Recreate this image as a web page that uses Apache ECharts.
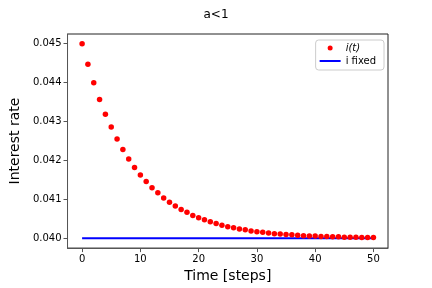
<!DOCTYPE html>
<html>
<head>
<meta charset="utf-8">
<script src="https://cdn.jsdelivr.net/npm/echarts@6/dist/echarts.min.js"></script>
<style>html,body{margin:0;padding:0;background:#fff;}#c{width:432px;height:288px;}</style>
</head>
<body>
<div id="c"></div>
<script>
const steps = [0,1,2,3,4,5,6,7,8,9,10,11,12,13,14,15,16,17,18,19,20,21,22,23,24,25,26,27,28,29,30,31,32,33,34,35,36,37,38,39,40,41,42,43,44,45,46,47,48,49,50];
const rateVariable = [0.04500,0.04447,0.04400,0.04357,0.04319,0.04286,0.04255,0.04228,0.04204,0.04182,0.04163,0.04146,0.04130,0.04117,0.04104,0.04093,0.04083,0.04074,0.04067,0.04059,0.04053,0.04048,0.04043,0.04038,0.04034,0.04030,0.04027,0.04024,0.04022,0.04019,0.04017,0.04016,0.04014,0.04012,0.04011,0.04010,0.04009,0.04008,0.04007,0.04006,0.04006,0.04005,0.04005,0.04004,0.04004,0.04003,0.04003,0.04003,0.04002,0.04002,0.04002];
const fixedSteps = [0, 50];
const rateFixed = [0.040, 0.040];
const xTicks = [0,10,20,30,40,50];
const yTicks = [0.040,0.041,0.042,0.043,0.044,0.045];

const font = 'DejaVu Sans';
const axisGray = '#555';
const chart = echarts.init(document.getElementById('c'), null, {renderer:'canvas'});
chart.setOption({
  animation: false,
  backgroundColor: '#fff',
  title: {
    text: 'a<1', left: 'center', top: 4,
    textStyle: {fontFamily: font, fontSize: 12, fontWeight: 'normal', color: '#000'}
  },
  legend: {
    right: 48, top: 40, orient: 'vertical',
    itemWidth: 21, itemHeight: 5, itemGap: 3,
    padding: [3, 8, 4, 4],
    borderColor: '#ccc', borderWidth: 1, borderRadius: 3,
    backgroundColor: '#fff',
    data: [
      {name: 'i(t)', icon: 'circle', itemStyle: {color: '#ff0000', opacity: 1}},
      {name: 'i fixed', icon: 'path://M0,0L42,0L42,4L0,4Z', itemStyle: {color: '#0000ff', opacity: 1}}
    ],
    formatter: function (n) { return n === 'i(t)' ? '{it|i(t)}' : n; },
    textStyle: {
      fontFamily: font, fontSize: 10, color: '#000',
      rich: {it: {fontFamily: font, fontSize: 10, fontStyle: 'italic', color: '#000'}}
    }
  },
  grid: {left: 53, right: 44, top: 34, bottom: 36, show: true, borderColor: '#222', borderWidth: 1},
  xAxis: {
    type: 'value', min: -2.5, max: 52.5,
    name: 'Time [steps]', nameLocation: 'middle', nameGap: 19,
    nameTextStyle: {fontFamily: font, fontSize: 14, color: '#000'},
    axisLine: {show: true, onZero: false, lineStyle: {color: axisGray, width: 1}},
    axisTick: {show: true, length: 4, customValues: xTicks, lineStyle: {color: axisGray}},
    axisLabel: {customValues: xTicks, fontFamily: font, fontSize: 10, color: '#000', margin: 6},
    splitLine: {show: false}
  },
  yAxis: {
    type: 'value', min: 0.03975, max: 0.04525,
    name: 'Interest rate', nameLocation: 'middle', nameGap: 34, nameRotate: 90,
    nameTextStyle: {fontFamily: font, fontSize: 14, color: '#000'},
    axisLine: {show: true, onZero: false, lineStyle: {color: axisGray, width: 1}},
    axisTick: {show: true, length: 4, customValues: yTicks, lineStyle: {color: axisGray}},
    axisLabel: {customValues: yTicks, fontFamily: font, fontSize: 10, color: '#000', margin: 6,
      formatter: function (v) { return v.toFixed(3); }},
    splitLine: {show: false}
  },
  series: [
    {
      name: 'i(t)', type: 'scatter', symbol: 'circle', symbolSize: 5.5,
      itemStyle: {color: '#ff0000', opacity: 1},
      data: steps.map((s, i) => [s, rateVariable[i]]),
      z: 3
    },
    {
      name: 'i fixed', type: 'line', showSymbol: false, symbol: 'none',
      lineStyle: {color: '#0000ff', width: 2},
      itemStyle: {color: '#0000ff'},
      data: fixedSteps.map((s, i) => [s, rateFixed[i]]),
      z: 2
    }
  ]
});
</script>
</body>
</html>
